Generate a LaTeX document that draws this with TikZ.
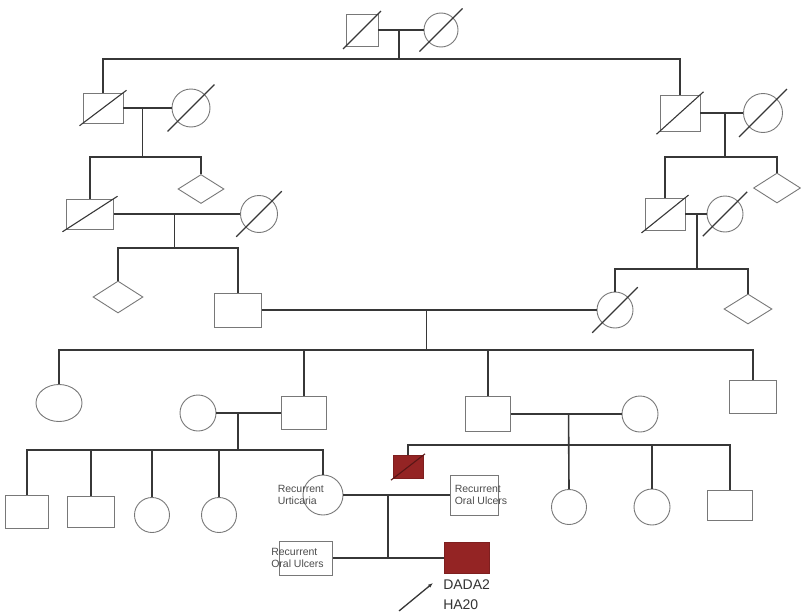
\documentclass[tikz,border=0pt]{standalone}
\usepackage{fontspec}
\setmainfont{Liberation Sans}
\usetikzlibrary{calc,shapes.geometric,arrows.meta}

\definecolor{lineclr}{RGB}{55,55,55}
\definecolor{shapeclr}{RGB}{120,120,120}
\definecolor{sickred}{RGB}{148,36,36}

% slash through a deceased individual
\newcommand{\markdead}[2][1.15]{\draw[dead] ($(#2.center)!#1!(#2.south west)$) -- ($(#2.center)!#1!(#2.north east)$);}

\begin{document}
\begin{tikzpicture}[x=1pt, y=-1pt,
    male/.style 2 args={rectangle, draw=shapeclr, line width=0.9pt, inner sep=0pt, minimum width=#1pt, minimum height=#2pt},
    female/.style={circle, draw=shapeclr, line width=0.9pt, inner sep=0pt, minimum size=#1pt},
    oval/.style 2 args={ellipse, draw=shapeclr, line width=0.9pt, inner sep=0pt, minimum width=#1pt, minimum height=#2pt},
    unknown/.style 2 args={diamond, draw=shapeclr, line width=0.9pt, inner sep=0pt, minimum width=#1pt, minimum height=#2pt},
    affected/.style={fill=sickred, draw=sickred!85!black},
    kin/.style={draw=lineclr, line width=1.6pt},
    dead/.style={draw=lineclr, line width=1.1pt},
    tag/.style={font=\fontsize{10.5}{12.5}\selectfont, text=black!70, align=left, inner sep=0pt}]

    \useasboundingbox (0,0) rectangle (801,613);

    % Generation I
    \node[male={32}{32}] (i1) at (362,30) {};
    \node[female=34] (i2) at (441,30) {};

    % Generation II
    \node[male={40}{30}] (ii1) at (103,108) {};
    \node[female=38] (ii2) at (191,108) {};
    \node[male={40}{36}] (ii3) at (680,113) {};
    \node[female=39] (ii4) at (763,113) {};

    % Generation III
    \node[male={47}{30}] (iii1) at (90,214) {};
    \node[unknown={46}{29}] (iii2) at (201,189) {};
    \node[female=37] (iii3) at (259,214) {};
    \node[male={40}{32}] (iii4) at (665,214) {};
    \node[female=36] (iii5) at (725,214) {};
    \node[unknown={47}{30}] (iii6) at (777,188) {};

    % Generation IV
    \node[unknown={50}{32}] (iv1) at (118,297) {};
    \node[male={47}{34}] (iv2) at (238,310) {};
    \node[female=36] (iv3) at (615,310) {};
    \node[unknown={48}{30}] (iv4) at (748,309) {};

    % Generation V
    \node[oval={46}{37}] (v1) at (59,403) {};
    \node[female=36] (v2) at (198,413) {};
    \node[male={45}{33}] (v3) at (304,413) {};
    \node[male={45}{35}] (v4) at (488,414) {};
    \node[female=36] (v5) at (640,414) {};
    \node[male={47}{33}] (v6) at (753,397) {};

    % Generation VI
    \node[male={43}{33}] (vi1) at (27,512) {};
    \node[male={47}{31}] (vi2) at (91,512) {};
    \node[female=35] (vi3) at (152,515) {};
    \node[female=35] (vi4) at (219,515) {};
    \node[female=40] (vi5) at (323,495) {};
    \node[male={30}{23}, affected] (vi6) at (408,467) {};
    \node[male={48}{40}] (vi7) at (474,495) {};
    \node[female=35] (vi8) at (569,507) {};
    \node[female=36] (vi9) at (652,507) {};
    \node[male={45}{30}] (vi10) at (730,505) {};

    % Generation VII
    \node[male={53}{34}] (vii1) at (306,558) {};
    \node[male={45}{31}, affected] (vii2) at (467,558) {};

    % Deceased
    \markdead{i1}
    \markdead[1.75]{i2}
    \markdead{ii1}
    \markdead[1.7]{ii2}
    \markdead{ii3}
    \markdead[1.7]{ii4}
    \markdead{iii1}
    \markdead[1.7]{iii3}
    \markdead{iii4}
    \markdead[1.7]{iii5}
    \markdead[1.75]{iv3}
    \draw[dead, draw=sickred!60!black] ($(vi6.center)!1.1!(vi6.south west)$) -- ($(vi6.center)!1.1!(vi6.north east)$);

    % Couples and descent
    \coordinate (d1) at ($(i1)!0.47!(i2)$);
    \draw[kin] (i1) -- (i2);
    \draw[kin] (d1) -- ++(0,29) coordinate (s1);
    \draw[kin] (ii1.north) |- (s1) -| (ii3.north);

    \coordinate (d2) at ($(ii1)!0.45!(ii2)$);
    \draw[kin] (ii1) -- (ii2);
    \draw[kin] (d2) -- ++(0,49) coordinate (s2);
    \draw[kin] (iii1.north) |- (s2) -| (iii2.north);

    \coordinate (d3) at ($(ii3)!0.54!(ii4)$);
    \draw[kin] (ii3) -- (ii4);
    \draw[kin] (d3) -- ++(0,44) coordinate (s3);
    \draw[kin] (iii4.north) |- (s3) -| (iii6.north);

    \coordinate (d4) at ($(iii1)!0.5!(iii3)$);
    \draw[kin] (iii1) -- (iii3);
    \draw[kin] (d4) -- ++(0,34) coordinate (s4);
    \draw[kin] (iv1.north) |- (s4) -| (iv2.north);

    \coordinate (d5) at ($(iii4)!0.53!(iii5)$);
    \draw[kin] (iii4) -- (iii5);
    \draw[kin] (d5) -- ++(0,55) coordinate (s5);
    \draw[kin] (iv3.north) |- (s5) -| (iv4.north);

    \coordinate (d6) at ($(iv2)!0.5!(iv3)$);
    \draw[kin] (iv2) -- (iv3);
    \draw[kin] (d6) -- ++(0,40) coordinate (s6);
    \draw[kin] (v1.north) |- (s6) -| (v6.north);
    \draw[kin] (v3.north) -- (v3.north |- s6);
    \draw[kin] (v4.north) -- (v4.north |- s6);

    \coordinate (d7) at ($(v2)!0.38!(v3)$);
    \draw[kin] (v2) -- (v3);
    \draw[kin] (d7) -- ++(0,37) coordinate (s7);
    \draw[kin] (vi1.north) |- (s7) -| (vi5.north);
    \draw[kin] (vi2.north) -- (vi2.north |- s7);
    \draw[kin] (vi3.north) -- (vi3.north |- s7);
    \draw[kin] (vi4.north) -- (vi4.north |- s7);

    \coordinate (d8) at ($(v4)!0.53!(v5)$);
    \draw[kin] (v4) -- (v5);
    \draw[kin] (d8) -- (vi8.north);
    \coordinate (s8) at ($(d8)+(0,31)$);
    \draw[kin] (vi6.north) |- (s8) -| (vi10.north);
    \draw[kin] (vi9.north) -- (vi9.north |- s8);

    \coordinate (d9) at ($(vi5)!0.43!(vi7)$);
    \draw[kin] (vi5) -- (vi7);
    \draw[kin] (d9) -- (d9 |- vii1.east);
    \draw[kin] (vii1) -- (vii2);

    % Labels
    \node[tag, anchor=west] (vi5txt) at ($(vi5.west)+(-25,0)$) {Recurrent\\Urticaria};
    \node[tag, anchor=west] (vi7txt) at ($(vi7.west)+(5,0)$) {Recurrent\\Oral Ulcers};
    \node[tag, anchor=west] (vii1txt) at ($(vii1.west)+(-8,0)$) {Recurrent\\Oral Ulcers};
    \node[tag, font=\fontsize{14}{20}\selectfont, text=black!80, anchor=north west] (vii2txt) at ($(vii2.south west)+(-1,6)$) {DADA2\\HA20};

    % Proband arrow
    \coordinate (tip) at ($(vii2.south west)+(-11,9)$);
    \coordinate (tail) at ($(vii2.south west)+(-45,37)$);
    \draw[kin, line width=1.3pt, -{Latex[length=5pt]}] (tail) -- (tip);

\end{tikzpicture}
\end{document}
